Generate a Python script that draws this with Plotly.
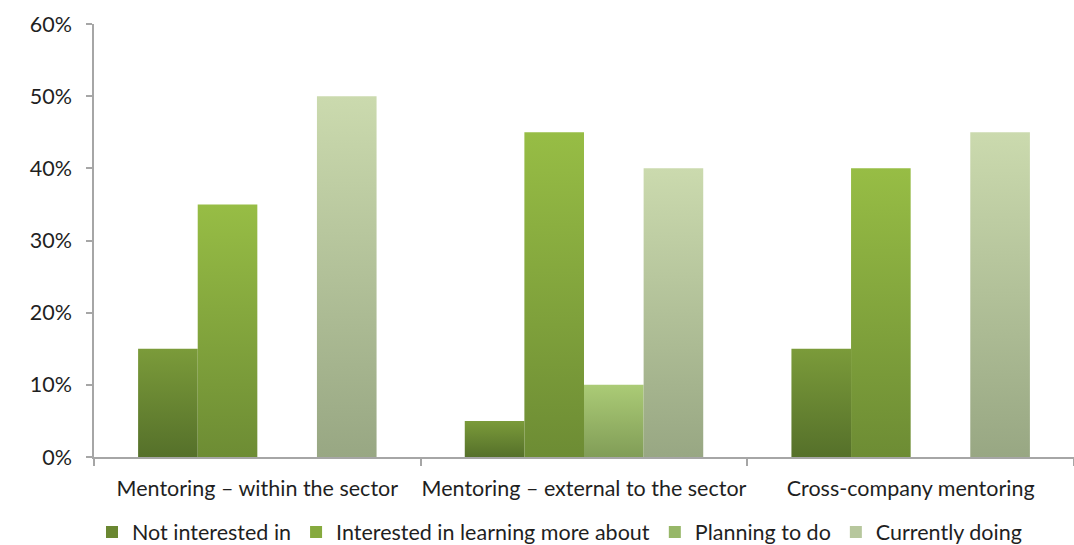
import plotly.graph_objects as go

# Survey results: share of respondents per mentoring approach
categories = ["Mentoring – within the sector",
              "Mentoring – external to the sector",
              "Cross-company mentoring"]
series_names = ["Not interested in", "Interested in learning more about",
                "Planning to do", "Currently doing"]
not_interested = [15, 5, 15]
interested = [35, 45, 40]
planning = [0, 10, 0]
currently = [50, 40, 45]
y_ticks = [0, 10, 20, 30, 40, 50, 60]
y_tick_labels = [f"{v}%" for v in y_ticks]

series_values = [not_interested, interested, planning, currently]
# (bottom, top) colours of each series' vertical gradient
series_grad = [("#55702a", "#7b9b3a"),
               ("#6d8c34", "#97bd45"),
               ("#819d57", "#abcb76"),
               ("#98a783", "#cbdaae")]
legend_colors = ["#6a8731", "#86aa3e", "#97b768", "#b7c79d"]

FONT = "Lato"
FS = 21.5
TEXT = "#1f1f1f"
AXIS = "#a6a6a6"

group_frac = 0.73
bar_w = group_frac / len(series_names)

fig = go.Figure()

for j, (name, vals) in enumerate(zip(series_names, series_values)):
    bottom, top = series_grad[j]
    for i, v in enumerate(vals):
        if v <= 0:
            continue
        x0 = i - group_frac / 2 + j * bar_w
        x1 = x0 + bar_w
        fig.add_trace(go.Scatter(
            x=[x0, x0, x1, x1, x0], y=[0, v, v, 0, 0],
            mode="lines", fill="toself", line=dict(width=0),
            fillgradient=dict(type="vertical",
                              colorscale=[[0, bottom], [1, top]]),
            hoverinfo="skip", showlegend=False,
        ))
    # legend entry for the series
    fig.add_trace(go.Bar(x=[None], y=[None], name=name,
                         marker=dict(color=legend_colors[j], line=dict(width=0))))

fig.update_layout(
    width=1074, height=545,
    margin=dict(l=94, r=0, t=24, b=88, autoexpand=False),
    paper_bgcolor="white", plot_bgcolor="white",
    font=dict(family=FONT, size=FS, color=TEXT),
    showlegend=True,
    legend=dict(orientation="h", x=0.475, xanchor="center",
                yref="container", y=0.024, yanchor="middle",
                font=dict(family=FONT, size=FS, color=TEXT),
                traceorder="normal", itemclick=False),
    xaxis=dict(range=[-0.5, 2.5], tickvals=[0, 1, 2], ticktext=categories,
               ticks="", showgrid=False, zeroline=False,
               showline=True, linecolor=AXIS, linewidth=1.5,
               ticklabelstandoff=11,
               tickfont=dict(family=FONT, size=FS, color=TEXT),
               minor=dict(tickvals=[-0.5, 0.5, 1.5, 2.5], ticks="outside",
                          ticklen=7, tickcolor=AXIS, tickwidth=1.5,
                          showgrid=False)),
    yaxis=dict(range=[0, 60], tickmode="array", tickvals=y_ticks,
               ticktext=y_tick_labels,
               ticks="outside", ticklen=6, tickcolor=AXIS, tickwidth=1.5,
               showgrid=False, zeroline=False,
               showline=True, linecolor=AXIS, linewidth=1.5,
               ticklabelstandoff=10,
               tickfont=dict(family=FONT, size=FS, color=TEXT)),
)

fig.write_html("out.html")
